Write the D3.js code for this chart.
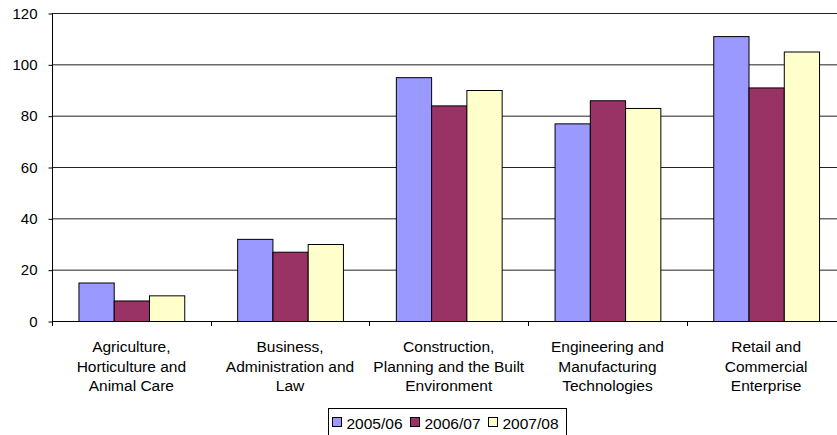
<!DOCTYPE html>
<html><head><meta charset="utf-8">
<script src="https://cdn.jsdelivr.net/npm/d3@7"></script>
<style>body{margin:0;background:#fff}svg{display:block;font-family:"Liberation Sans",Arial,sans-serif}</style>
</head><body>
<svg id="c" width="837" height="435"></svg>
<script>
const categories = [
  ["Agriculture,","Horticulture and","Animal Care"],
  ["Business,","Administration and","Law"],
  ["Construction,","Planning and the Built","Environment"],
  ["Engineering and","Manufacturing","Technologies"],
  ["Retail and","Commercial","Enterprise"]
];
const seriesNames = ["2005/06","2006/07","2007/08"];
const v2005 = [15, 32, 95, 77, 111];
const v2006 = [8, 27, 84, 86, 91];
const v2007 = [10, 30, 90, 83, 105];
const seriesValues = [v2005, v2006, v2007];
const colors = ["#9999FF","#993366","#FFFFCC"];
const yTicks = [0,20,40,60,80,100,120];

(function(){
const FS = "15.5px";
const svg = d3.select("#c");
const pL = 52, pR = 845.5, pT = 13, pB = 321;
const x = d3.scaleBand().domain(d3.range(categories.length)).range([pL, pR]).paddingInner(0).paddingOuter(0);
const bw = x.bandwidth()/4.5;
const xs = d3.scaleBand().domain(d3.range(3)).range([0.75*bw, 3.75*bw]);
const y = d3.scaleLinear().domain([0,120]).range([pB, pT]);

// gridlines
svg.append("g").selectAll("line").data(yTicks.filter(d=>d>0)).join("line")
  .attr("x1", pL).attr("x2", pR).attr("y1", d=>y(d)+0.5).attr("y2", d=>y(d)+0.5)
  .attr("stroke","#222").attr("stroke-width",1);

// bars
const g = svg.append("g");
seriesValues.forEach((vals, si) => {
  g.selectAll(null).data(vals).join("rect")
    .attr("x", (d,i)=>x(i)+xs(si)+0.5)
    .attr("y", d=>y(d)+0.5)
    .attr("width", xs.bandwidth())
    .attr("height", d=>pB-y(d))
    .attr("fill", colors[si]).attr("stroke","#000").attr("stroke-width",1);
});

// y axis
const ya = svg.append("g").attr("transform",`translate(${pL+0.5},0.5)`)
  .call(d3.axisLeft(y).tickValues(yTicks).tickSize(4).tickPadding(11));
ya.select(".domain").attr("d",`M0,${pT}V${pB}`).attr("stroke","#000");
ya.selectAll("line").attr("stroke","#000");
ya.selectAll("text").attr("font-size","15px").attr("fill","#000").attr("font-family","Liberation Sans, Arial, sans-serif");

// x axis
svg.append("line").attr("x1",pL).attr("x2",pR).attr("y1",pB+0.5).attr("y2",pB+0.5).attr("stroke","#000");
const xt = d3.range(categories.length+1).map(i=> pL + i*x.bandwidth());
svg.append("g").selectAll("line").data(xt).join("line")
  .attr("x1",d=>Math.round(d)+0.5).attr("x2",d=>Math.round(d)+0.5)
  .attr("y1",pB).attr("y2",pB+5).attr("stroke","#000");

const lab = svg.append("g");
categories.forEach((lines,i)=>{
  const t = lab.append("text").attr("text-anchor","middle").attr("font-size",FS).attr("fill","#000")
    .attr("x", x(i)+x.bandwidth()/2);
  lines.forEach((l,k)=> t.append("tspan").attr("x", x(i)+x.bandwidth()/2).attr("y", 352+k*19.5).text(l));
});

// legend
const lg = svg.append("g");
lg.append("rect").attr("x",328.5).attr("y",408.5).attr("width",238).attr("height",30)
  .attr("fill","#fff").attr("stroke","#000");
const lx = [332, 410, 488];
seriesNames.forEach((n,i)=>{
  lg.append("rect").attr("x",lx[i]+0.5).attr("y",417.5).attr("width",9).attr("height",9)
    .attr("fill",colors[i]).attr("stroke","#000");
  lg.append("text").attr("x",lx[i]+14.5).attr("y",428.5).attr("font-size",FS).attr("fill","#000").text(n);
});
})();
</script>
</body></html>
